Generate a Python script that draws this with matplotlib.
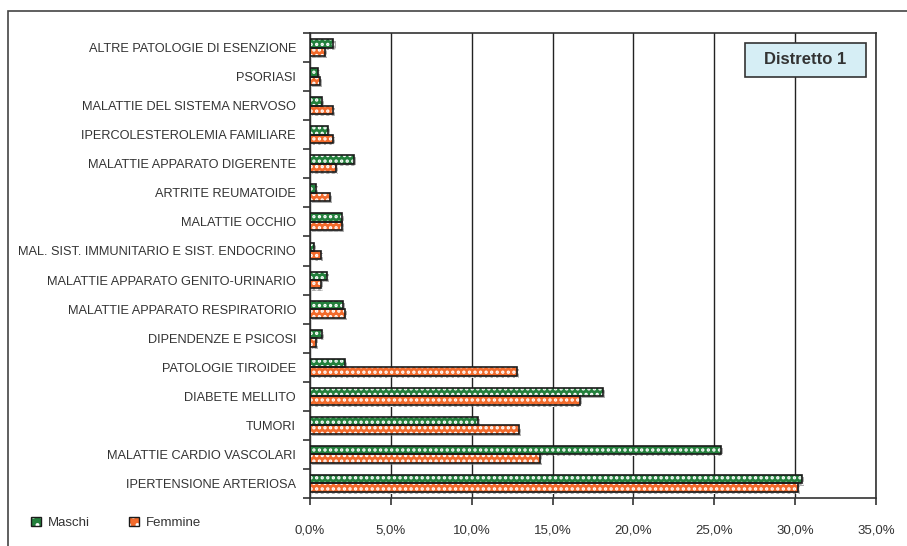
import numpy as np
import matplotlib
matplotlib.use("Agg")
import matplotlib.pyplot as plt
import matplotlib.patheffects as pe
from matplotlib.patches import Rectangle, Patch
from matplotlib.legend_handler import HandlerTuple

# categorie, dall'alto verso il basso
categorie = [
    "ALTRE PATOLOGIE DI ESENZIONE",
    "PSORIASI",
    "MALATTIE DEL SISTEMA NERVOSO",
    "IPERCOLESTEROLEMIA FAMILIARE",
    "MALATTIE APPARATO DIGERENTE",
    "ARTRITE REUMATOIDE",
    "MALATTIE OCCHIO",
    "MAL. SIST. IMMUNITARIO E SIST. ENDOCRINO",
    "MALATTIE APPARATO GENITO-URINARIO",
    "MALATTIE APPARATO RESPIRATORIO",
    "DIPENDENZE E PSICOSI",
    "PATOLOGIE TIROIDEE",
    "DIABETE MELLITO",
    "TUMORI",
    "MALATTIE CARDIO VASCOLARI",
    "IPERTENSIONE ARTERIOSA",
]
maschi = [1.45, 0.5, 0.75, 1.1, 2.7, 0.35, 2.0, 0.25, 1.05, 2.05, 0.75, 2.15, 18.1, 10.4, 25.4, 30.4]
femmine = [0.9, 0.6, 1.4, 1.4, 1.6, 1.25, 2.0, 0.7, 0.7, 2.15, 0.35, 12.8, 16.7, 12.9, 14.2, 30.2]
xticks = [0, 5, 10, 15, 20, 25, 30, 35]
titolo = "Distretto 1"

verde = "#23803c"
arancio = "#f26a2b"
grigio = "#333333"

plt.rcParams['font.family'] = ['Liberation Sans', 'DejaVu Sans']
plt.rcParams['hatch.linewidth'] = 1.6

fig = plt.figure(figsize=(9.07, 5.46), dpi=100)
ax = fig.add_axes([310/907, 1-498/546, (876-310)/907, (498-33)/546])

y = np.arange(len(categorie))
h = 0.29
ombra = [pe.SimplePatchShadow(offset=(1.5, -1.5), shadow_rgbFace='#777777', alpha=0.6), pe.Normal()]

for vals, col, off in [(maschi, verde, -h/2), (femmine, arancio, h/2)]:
    ax.barh(y + off, vals, height=h, color=col, edgecolor='white', hatch='...',
            linewidth=0, path_effects=ombra, zorder=2)
    ax.barh(y + off, vals, height=h, fill=False, edgecolor='#1a1a1a', linewidth=1.2, zorder=3)

ax.set_xlim(0, 35)
ax.set_ylim(len(categorie) - 0.5, -0.5)
ax.set_xticks(xticks)
ax.set_xticklabels([f"{v:.1f}%".replace('.', ',') for v in xticks])
ax.set_yticks(y)
ax.set_yticklabels(categorie)
ax.set_yticks(np.arange(len(categorie) + 1) - 0.5, minor=True)
ax.tick_params(axis='y', which='major', length=0, pad=10, labelsize=9.2, colors=grigio)
ax.tick_params(axis='y', which='minor', length=5, width=1.2, direction='out', color=grigio)
ax.tick_params(axis='x', length=5, width=1.2, direction='out', pad=14, labelsize=9.5, colors=grigio)

ax.set_axisbelow(True)
ax.grid(axis='x', color='#222222', linewidth=1)
for s in ax.spines.values():
    s.set_color(grigio)
    s.set_linewidth(1.2)

# riquadro titolo
ax.add_patch(Rectangle((0.7686, 0.9054), 0.2138, 0.0731, transform=ax.transAxes,
                       facecolor='#d6eef5', edgecolor=grigio, linewidth=1.2, zorder=5))
ax.text(0.8754, 0.942, titolo, transform=ax.transAxes, ha='center', va='center',
        fontsize=12, fontweight='bold', color=grigio, zorder=6)

# cornice della figura
fig.patches.append(Rectangle((8/907, -0.1), 1.2, 1 - 11/546 + 0.1, transform=fig.transFigure,
                             fill=False, edgecolor='#444444', linewidth=1.2))

# legenda
def handle(col):
    return (Patch(facecolor=col, edgecolor='white', hatch='..', linewidth=0),
            Patch(fill=False, edgecolor='#1a1a1a', linewidth=1))

fig.legend([handle(verde), handle(arancio)], ["Maschi", "Femmine"], ncol=2,
           handler_map={tuple: HandlerTuple(ndivide=1)},
           loc='center left', bbox_to_anchor=(31/907, 1 - 523/546), frameon=False,
           fontsize=9.5, labelcolor=grigio, handlelength=0.75, handleheight=0.75,
           handletextpad=0.5, columnspacing=3.0, borderpad=0, borderaxespad=0)

fig.savefig("out.png", dpi=100)
